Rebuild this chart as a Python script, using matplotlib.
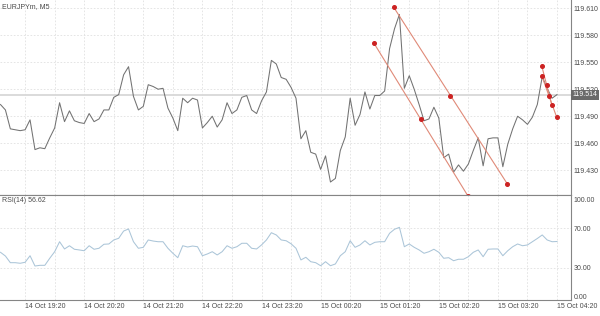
import matplotlib
matplotlib.use("Agg")
import matplotlib.pyplot as plt
import numpy as np

plt.rcParams['font.family'] = ['Liberation Sans', 'DejaVu Sans']

symbol_label = "EURJPYm, M5"
rsi_label = "RSI(14) 56.62"
current_price = 119.514

price = [119.503, 119.497, 119.476, 119.475, 119.474, 119.475, 119.486, 119.453, 119.455, 119.454,
         119.466, 119.477, 119.505, 119.484, 119.496, 119.485, 119.483, 119.482, 119.493, 119.484,
         119.487, 119.497, 119.497, 119.511, 119.514, 119.536, 119.545, 119.512, 119.497, 119.501,
         119.525, 119.523, 119.520, 119.521, 119.499, 119.488, 119.474, 119.510, 119.505, 119.510,
         119.508, 119.477, 119.483, 119.490, 119.478, 119.486, 119.505, 119.493, 119.497, 119.511,
         119.513, 119.497, 119.493, 119.507, 119.517, 119.552, 119.548, 119.533, 119.531, 119.522,
         119.510, 119.465, 119.474, 119.450, 119.448, 119.431, 119.446, 119.417, 119.421, 119.452,
         119.467, 119.510, 119.480, 119.492, 119.517, 119.498, 119.513, 119.513, 119.518, 119.565,
         119.587, 119.603, 119.521, 119.535, 119.520, 119.503, 119.485, 119.487, 119.500, 119.488,
         119.444, 119.448, 119.428, 119.436, 119.429, 119.437, 119.452, 119.466, 119.435, 119.465,
         119.466, 119.466, 119.434, 119.459, 119.476, 119.490, 119.486, 119.481, 119.489, 119.503,
         119.534, 119.521, 119.510, 119.514]

rsi = [45.6, 41.8, 35.0, 35.0, 34.4, 35.4, 42.1, 31.6, 32.3, 32.3,
       39.5, 46.2, 56.4, 49.0, 52.3, 48.7, 48.0, 47.2, 52.3, 48.7,
       49.7, 53.8, 54.1, 58.2, 59.9, 67.3, 69.4, 56.4, 49.7, 50.7,
       58.2, 57.1, 56.4, 56.4, 49.7, 44.6, 40.1, 52.3, 51.0, 52.0,
       51.3, 42.1, 43.9, 46.2, 42.9, 46.2, 52.3, 49.7, 51.3, 54.8,
       54.8, 49.7, 49.0, 53.1, 58.2, 65.6, 63.3, 58.2, 57.4, 54.3,
       49.7, 37.8, 40.5, 36.0, 35.0, 31.9, 36.0, 31.9, 33.7, 42.1,
       46.2, 57.4, 50.7, 53.1, 57.4, 53.1, 55.8, 56.4, 56.4, 65.0,
       69.1, 71.1, 51.3, 54.1, 50.7, 48.0, 44.6, 46.2, 48.7, 45.6,
       39.5, 40.1, 37.0, 38.5, 38.5, 41.1, 45.6, 48.0, 41.1, 48.7,
       49.0, 49.0, 42.1, 47.2, 51.3, 54.1, 52.3, 53.1, 56.4, 59.7,
       63.3, 58.2, 56.4, 56.62]

# drawn trend lines: (start bar, start price, end bar, end price)
trend_lines = [
    (75.84, 119.571, 94.86, 119.402),
    (79.84, 119.611, 102.90, 119.415),
    (109.89, 119.546, 111.92, 119.503),
    (109.89, 119.535, 112.93, 119.489),
]

x_tick_bars = [5, 17, 29, 41, 53, 65, 77, 89, 101, 113]
x_tick_labels = ["14 Oct 19:20", "14 Oct 20:20", "14 Oct 21:20", "14 Oct 22:20", "14 Oct 23:20",
                 "15 Oct 00:20", "15 Oct 01:20", "15 Oct 02:20", "15 Oct 03:20", "15 Oct 04:20"]
price_ticks = [119.430, 119.460, 119.490, 119.520, 119.550, 119.580, 119.610]
rsi_ticks = [0, 30, 70, 100]

W, H = 600, 316
fig = plt.figure(figsize=(6, 3.16), dpi=100)
fig.patch.set_facecolor('white')

ax_w = 571 / W
ax1 = fig.add_axes([0, 1 - 195 / H, ax_w, 195 / H])
ax2 = fig.add_axes([0, 1 - 300 / H, ax_w, 105 / H], sharex=ax1)

x = np.arange(len(price))
xlim = (-0.1, 115.84)
grid_c = '#e0e0e0'
spine_c = '#858585'
txt_c = '#4a4a4a'
fs = 5

for ax in (ax1, ax2):
    ax.set_xlim(*xlim)
    for s in ('top', 'left'):
        ax.spines[s].set_visible(False)
    ax.spines['right'].set_color(spine_c)
    ax.spines['bottom'].set_color(spine_c)
    ax.spines['right'].set_linewidth(0.8)
    ax.spines['bottom'].set_linewidth(0.8)
    for gx in range(5, 116, 6):
        ax.axvline(gx, color=grid_c, lw=0.6, ls=(0, (2, 2)), zorder=0)
    ax.yaxis.tick_right()
    ax.tick_params(axis='y', length=0, labelsize=fs, labelcolor=txt_c, pad=2)

# price panel
ax1.set_ylim(119.4026, 119.619)
for t in price_ticks:
    ax1.axhline(t, color=grid_c, lw=0.6, ls=(0, (2, 2)), zorder=0)
ax1.axhline(current_price, color='#d8d8d8', lw=1.3, zorder=1)
ax1.plot(x, price, color='#727272', lw=0.75, zorder=3)
for (x0, y0, x1, y1) in trend_lines:
    ax1.plot([x0, x1], [y0, y1], color='#e08a78', lw=0.8, zorder=4)
    xs = [x0, (x0 + x1) / 2, x1]
    ys = [y0, (y0 + y1) / 2, y1]
    ax1.plot(xs, ys, ls='none', marker='o', ms=2.6, color='#cc2222', zorder=5, clip_on=False)
ax1.set_yticks(price_ticks)
ax1.set_yticklabels([f"{t:.3f}" for t in price_ticks])
for lab in ax1.get_yticklabels():
    lab.set_horizontalalignment('left')
ax1.tick_params(axis='x', length=0, labelbottom=False)
ax1.text(1.003, current_price, f"{current_price:.3f}", transform=ax1.get_yaxis_transform(),
         ha='left', va='center', fontsize=fs, color='white', zorder=10, clip_on=False,
         bbox=dict(boxstyle='square,pad=0.2', fc='#6a6a6a', ec='none'))
ax1.text(0.004, 0.985, symbol_label, transform=ax1.transAxes, ha='left', va='top', fontsize=fs, color=txt_c)

# RSI panel
ax2.set_ylim(-3.1, 104.1)
ax2.spines['top'].set_visible(True)
ax2.spines['top'].set_color(spine_c)
ax2.spines['top'].set_linewidth(0.8)
for t in (30, 70):
    ax2.axhline(t, color=grid_c, lw=0.6, ls=(0, (2, 2)), zorder=0)
ax2.plot(x, rsi, color='#abc5d8', lw=0.75, zorder=3)
ax2.set_yticks(rsi_ticks)
ax2.set_yticklabels([f"{t:.2f}" for t in rsi_ticks])
for lab in ax2.get_yticklabels():
    lab.set_horizontalalignment('left')
ax2.text(0.004, 0.985, rsi_label, transform=ax2.transAxes, ha='left', va='top', fontsize=fs, color=txt_c)
ax2.set_xticks(x_tick_bars)
ax2.set_xticklabels(x_tick_labels)
ax2.tick_params(axis='x', length=0, labelsize=fs, labelcolor=txt_c, pad=2)
for lab in ax2.get_xticklabels():
    lab.set_horizontalalignment('left')

fig.savefig('out.png', dpi=100, facecolor='white')
